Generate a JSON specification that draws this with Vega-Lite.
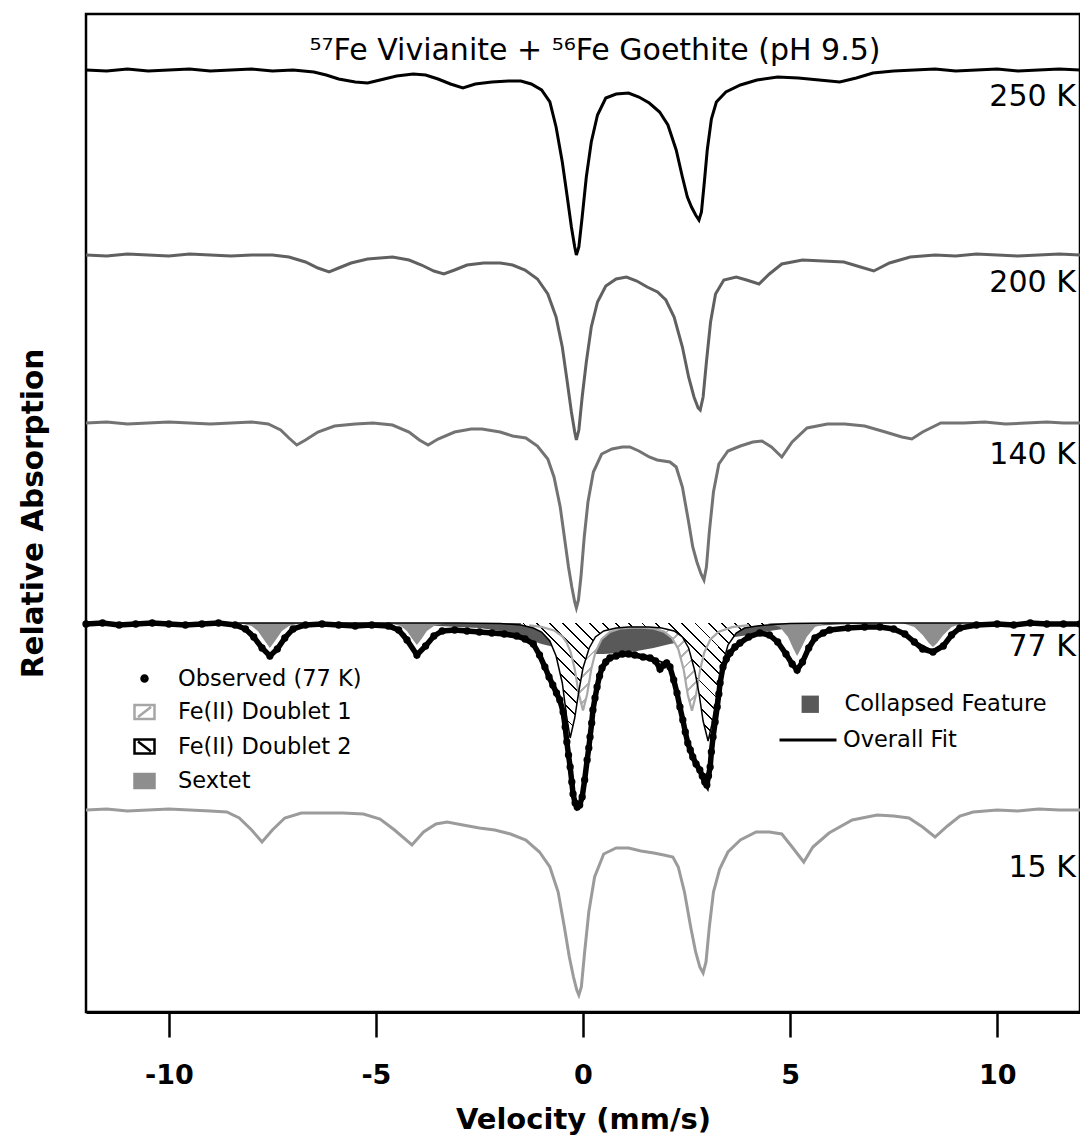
{
  "$schema": "https://vega.github.io/schema/vega-lite/v6.json",
  "width": 994,
  "height": 998,
  "autosize": {"type": "none"},
  "padding": {"left": 86, "top": 14, "right": 0, "bottom": 125},
  "background": "white",
  "title": {"text": "⁵⁷Fe Vivianite + ⁵⁶Fe Goethite (pH 9.5)", "font": "DejaVu Sans", "fontSize": 30, "fontWeight": "normal", "color": "black", "anchor": "middle", "baseline": "alphabetic", "offset": -46, "dx": 12, "dy": 30},
  "config": {"view": {"stroke": "black", "strokeWidth": 2.5}},
  "datasets": {
    "s250": [
      {"velocity": -12, "absorption": 942}, {"velocity": -11.5, "absorption": 941}, {"velocity": -11, "absorption": 943}, {"velocity": -10.5, "absorption": 941}, {"velocity": -10, "absorption": 942}, {"velocity": -9.5, "absorption": 943}, {"velocity": -9, "absorption": 941}, {"velocity": -8.5, "absorption": 942}, {"velocity": -8, "absorption": 943}, {"velocity": -7.5, "absorption": 941}, {"velocity": -7, "absorption": 942}, {"velocity": -6.5, "absorption": 940}, {"velocity": -6.2, "absorption": 937}, {"velocity": -5.9, "absorption": 933}, {"velocity": -5.5, "absorption": 930}, {"velocity": -5.2, "absorption": 929}, {"velocity": -4.9, "absorption": 932}, {"velocity": -4.5, "absorption": 936}, {"velocity": -4.1, "absorption": 938}, {"velocity": -3.8, "absorption": 937}, {"velocity": -3.5, "absorption": 933}, {"velocity": -3.2, "absorption": 928}, {"velocity": -2.9, "absorption": 924}, {"velocity": -2.6, "absorption": 928}, {"velocity": -2.2, "absorption": 930}, {"velocity": -1.8, "absorption": 931}, {"velocity": -1.5, "absorption": 931}, {"velocity": -1.25, "absorption": 928}, {"velocity": -1.0, "absorption": 922}, {"velocity": -0.8, "absorption": 910}, {"velocity": -0.65, "absorption": 885}, {"velocity": -0.5, "absorption": 850}, {"velocity": -0.38, "absorption": 815}, {"velocity": -0.28, "absorption": 785}, {"velocity": -0.2, "absorption": 765}, {"velocity": -0.16, "absorption": 757}, {"velocity": -0.1, "absorption": 765}, {"velocity": -0.02, "absorption": 795}, {"velocity": 0.08, "absorption": 835}, {"velocity": 0.2, "absorption": 870}, {"velocity": 0.35, "absorption": 897}, {"velocity": 0.55, "absorption": 914}, {"velocity": 0.8, "absorption": 918}, {"velocity": 1.1, "absorption": 919}, {"velocity": 1.35, "absorption": 915}, {"velocity": 1.6, "absorption": 909}, {"velocity": 1.85, "absorption": 900}, {"velocity": 2.05, "absorption": 887}, {"velocity": 2.25, "absorption": 862}, {"velocity": 2.4, "absorption": 835}, {"velocity": 2.52, "absorption": 815}, {"velocity": 2.62, "absorption": 805}, {"velocity": 2.72, "absorption": 797}, {"velocity": 2.8, "absorption": 792}, {"velocity": 2.86, "absorption": 800}, {"velocity": 2.93, "absorption": 830}, {"velocity": 3.0, "absorption": 862}, {"velocity": 3.1, "absorption": 893}, {"velocity": 3.22, "absorption": 910}, {"velocity": 3.45, "absorption": 920}, {"velocity": 3.8, "absorption": 927}, {"velocity": 4.2, "absorption": 932}, {"velocity": 4.7, "absorption": 935}, {"velocity": 5.2, "absorption": 934}, {"velocity": 5.7, "absorption": 932}, {"velocity": 6.2, "absorption": 930}, {"velocity": 6.6, "absorption": 934}, {"velocity": 7.0, "absorption": 939}, {"velocity": 7.5, "absorption": 941}, {"velocity": 8, "absorption": 942}, {"velocity": 8.5, "absorption": 943}, {"velocity": 9, "absorption": 941}, {"velocity": 9.5, "absorption": 942}, {"velocity": 10, "absorption": 943}, {"velocity": 10.5, "absorption": 941}, {"velocity": 11, "absorption": 942}, {"velocity": 11.5, "absorption": 943}, {"velocity": 12, "absorption": 942}
    ],
    "s200": [
      {"velocity": -12, "absorption": 757}, {"velocity": -11.5, "absorption": 756}, {"velocity": -11, "absorption": 758}, {"velocity": -10.5, "absorption": 757}, {"velocity": -10, "absorption": 756}, {"velocity": -9.5, "absorption": 758}, {"velocity": -9, "absorption": 757}, {"velocity": -8.5, "absorption": 756}, {"velocity": -8, "absorption": 757}, {"velocity": -7.5, "absorption": 757}, {"velocity": -7.1, "absorption": 755}, {"velocity": -6.7, "absorption": 750}, {"velocity": -6.4, "absorption": 744}, {"velocity": -6.13, "absorption": 740}, {"velocity": -5.9, "absorption": 744}, {"velocity": -5.6, "absorption": 749}, {"velocity": -5.2, "absorption": 753}, {"velocity": -4.6, "absorption": 755}, {"velocity": -4.2, "absorption": 752}, {"velocity": -3.9, "absorption": 747}, {"velocity": -3.6, "absorption": 741}, {"velocity": -3.36, "absorption": 738}, {"velocity": -3.1, "absorption": 742}, {"velocity": -2.8, "absorption": 747}, {"velocity": -2.4, "absorption": 749}, {"velocity": -2.0, "absorption": 749}, {"velocity": -1.7, "absorption": 747}, {"velocity": -1.4, "absorption": 742}, {"velocity": -1.1, "absorption": 733}, {"velocity": -0.85, "absorption": 718}, {"velocity": -0.65, "absorption": 695}, {"velocity": -0.5, "absorption": 665}, {"velocity": -0.38, "absorption": 630}, {"velocity": -0.28, "absorption": 600}, {"velocity": -0.2, "absorption": 580}, {"velocity": -0.16, "absorption": 572}, {"velocity": -0.1, "absorption": 582}, {"velocity": -0.02, "absorption": 615}, {"velocity": 0.08, "absorption": 650}, {"velocity": 0.2, "absorption": 685}, {"velocity": 0.35, "absorption": 710}, {"velocity": 0.55, "absorption": 726}, {"velocity": 0.8, "absorption": 733}, {"velocity": 1.05, "absorption": 735}, {"velocity": 1.3, "absorption": 731}, {"velocity": 1.55, "absorption": 725}, {"velocity": 1.8, "absorption": 720}, {"velocity": 2.0, "absorption": 712}, {"velocity": 2.2, "absorption": 695}, {"velocity": 2.4, "absorption": 665}, {"velocity": 2.55, "absorption": 635}, {"velocity": 2.68, "absorption": 615}, {"velocity": 2.78, "absorption": 604}, {"velocity": 2.83, "absorption": 602}, {"velocity": 2.9, "absorption": 615}, {"velocity": 2.98, "absorption": 650}, {"velocity": 3.08, "absorption": 690}, {"velocity": 3.2, "absorption": 718}, {"velocity": 3.4, "absorption": 732}, {"velocity": 3.7, "absorption": 735}, {"velocity": 3.95, "absorption": 732}, {"velocity": 4.25, "absorption": 728}, {"velocity": 4.5, "absorption": 738}, {"velocity": 4.8, "absorption": 748}, {"velocity": 5.3, "absorption": 752}, {"velocity": 5.8, "absorption": 751}, {"velocity": 6.3, "absorption": 750}, {"velocity": 6.7, "absorption": 745}, {"velocity": 7.02, "absorption": 741}, {"velocity": 7.4, "absorption": 749}, {"velocity": 7.9, "absorption": 755}, {"velocity": 8.5, "absorption": 757}, {"velocity": 9, "absorption": 756}, {"velocity": 9.5, "absorption": 758}, {"velocity": 10, "absorption": 757}, {"velocity": 10.5, "absorption": 756}, {"velocity": 11, "absorption": 757}, {"velocity": 11.5, "absorption": 758}, {"velocity": 12, "absorption": 757}
    ],
    "s140": [
      {"velocity": -12, "absorption": 589}, {"velocity": -11.5, "absorption": 590}, {"velocity": -11, "absorption": 588}, {"velocity": -10.5, "absorption": 589}, {"velocity": -10, "absorption": 590}, {"velocity": -9.5, "absorption": 589}, {"velocity": -9, "absorption": 588}, {"velocity": -8.5, "absorption": 589}, {"velocity": -8, "absorption": 590}, {"velocity": -7.6, "absorption": 588}, {"velocity": -7.3, "absorption": 582}, {"velocity": -7.1, "absorption": 574}, {"velocity": -6.91, "absorption": 567}, {"velocity": -6.7, "absorption": 572}, {"velocity": -6.4, "absorption": 580}, {"velocity": -6.0, "absorption": 586}, {"velocity": -5.5, "absorption": 588}, {"velocity": -5.07, "absorption": 589}, {"velocity": -4.6, "absorption": 587}, {"velocity": -4.2, "absorption": 580}, {"velocity": -3.95, "absorption": 572}, {"velocity": -3.74, "absorption": 567}, {"velocity": -3.5, "absorption": 573}, {"velocity": -3.1, "absorption": 580}, {"velocity": -2.7, "absorption": 583}, {"velocity": -2.44, "absorption": 583}, {"velocity": -2.0, "absorption": 580}, {"velocity": -1.7, "absorption": 576}, {"velocity": -1.38, "absorption": 574}, {"velocity": -1.1, "absorption": 566}, {"velocity": -0.85, "absorption": 553}, {"velocity": -0.7, "absorption": 535}, {"velocity": -0.55, "absorption": 505}, {"velocity": -0.45, "absorption": 475}, {"velocity": -0.35, "absorption": 445}, {"velocity": -0.27, "absorption": 425}, {"velocity": -0.2, "absorption": 410}, {"velocity": -0.16, "absorption": 404}, {"velocity": -0.11, "absorption": 412}, {"velocity": -0.05, "absorption": 435}, {"velocity": 0.03, "absorption": 475}, {"velocity": 0.12, "absorption": 510}, {"velocity": 0.25, "absorption": 540}, {"velocity": 0.45, "absorption": 558}, {"velocity": 0.7, "absorption": 563}, {"velocity": 0.95, "absorption": 565}, {"velocity": 1.13, "absorption": 565}, {"velocity": 1.35, "absorption": 561}, {"velocity": 1.6, "absorption": 555}, {"velocity": 1.79, "absorption": 552}, {"velocity": 2.1, "absorption": 550}, {"velocity": 2.25, "absorption": 545}, {"velocity": 2.4, "absorption": 525}, {"velocity": 2.55, "absorption": 490}, {"velocity": 2.65, "absorption": 465}, {"velocity": 2.75, "absorption": 450}, {"velocity": 2.85, "absorption": 438}, {"velocity": 2.92, "absorption": 432}, {"velocity": 2.98, "absorption": 445}, {"velocity": 3.05, "absorption": 480}, {"velocity": 3.15, "absorption": 520}, {"velocity": 3.28, "absorption": 548}, {"velocity": 3.5, "absorption": 561}, {"velocity": 3.8, "absorption": 566}, {"velocity": 4.1, "absorption": 570}, {"velocity": 4.32, "absorption": 571}, {"velocity": 4.55, "absorption": 565}, {"velocity": 4.8, "absorption": 555}, {"velocity": 5.05, "absorption": 570}, {"velocity": 5.41, "absorption": 584}, {"velocity": 5.9, "absorption": 588}, {"velocity": 6.32, "absorption": 588}, {"velocity": 6.8, "absorption": 586}, {"velocity": 7.3, "absorption": 580}, {"velocity": 7.7, "absorption": 575}, {"velocity": 7.94, "absorption": 573}, {"velocity": 8.2, "absorption": 580}, {"velocity": 8.64, "absorption": 589}, {"velocity": 9.2, "absorption": 589}, {"velocity": 9.7, "absorption": 590}, {"velocity": 10.2, "absorption": 588}, {"velocity": 10.7, "absorption": 589}, {"velocity": 11.2, "absorption": 590}, {"velocity": 11.6, "absorption": 589}, {"velocity": 12, "absorption": 589}
    ],
    "s15": [
      {"velocity": -12, "absorption": 202}, {"velocity": -11.5, "absorption": 203}, {"velocity": -11, "absorption": 201}, {"velocity": -10.5, "absorption": 202}, {"velocity": -10, "absorption": 203}, {"velocity": -9.5, "absorption": 202}, {"velocity": -9, "absorption": 201}, {"velocity": -8.6, "absorption": 200}, {"velocity": -8.3, "absorption": 194}, {"velocity": -8.0, "absorption": 182}, {"velocity": -7.75, "absorption": 170}, {"velocity": -7.5, "absorption": 182}, {"velocity": -7.2, "absorption": 194}, {"velocity": -6.8, "absorption": 199}, {"velocity": -6.3, "absorption": 199}, {"velocity": -5.8, "absorption": 199}, {"velocity": -5.3, "absorption": 198}, {"velocity": -4.9, "absorption": 193}, {"velocity": -4.55, "absorption": 182}, {"velocity": -4.13, "absorption": 167}, {"velocity": -3.85, "absorption": 180}, {"velocity": -3.55, "absorption": 188}, {"velocity": -3.28, "absorption": 190}, {"velocity": -2.9, "absorption": 187}, {"velocity": -2.5, "absorption": 184}, {"velocity": -2.13, "absorption": 182}, {"velocity": -1.75, "absorption": 178}, {"velocity": -1.38, "absorption": 172}, {"velocity": -1.05, "absorption": 160}, {"velocity": -0.8, "absorption": 145}, {"velocity": -0.6, "absorption": 120}, {"velocity": -0.45, "absorption": 85}, {"velocity": -0.33, "absorption": 55}, {"velocity": -0.23, "absorption": 35}, {"velocity": -0.15, "absorption": 22}, {"velocity": -0.1, "absorption": 17}, {"velocity": -0.04, "absorption": 25}, {"velocity": 0.04, "absorption": 60}, {"velocity": 0.14, "absorption": 100}, {"velocity": 0.28, "absorption": 135}, {"velocity": 0.5, "absorption": 158}, {"velocity": 0.8, "absorption": 164}, {"velocity": 1.1, "absorption": 164}, {"velocity": 1.4, "absorption": 161}, {"velocity": 1.71, "absorption": 159}, {"velocity": 1.95, "absorption": 157}, {"velocity": 2.17, "absorption": 155}, {"velocity": 2.3, "absorption": 145}, {"velocity": 2.45, "absorption": 120}, {"velocity": 2.6, "absorption": 85}, {"velocity": 2.72, "absorption": 60}, {"velocity": 2.82, "absorption": 45}, {"velocity": 2.9, "absorption": 39}, {"velocity": 2.97, "absorption": 50}, {"velocity": 3.05, "absorption": 85}, {"velocity": 3.15, "absorption": 120}, {"velocity": 3.3, "absorption": 143}, {"velocity": 3.5, "absorption": 160}, {"velocity": 3.8, "absorption": 172}, {"velocity": 4.18, "absorption": 180}, {"velocity": 4.5, "absorption": 180}, {"velocity": 4.8, "absorption": 178}, {"velocity": 5.05, "absorption": 165}, {"velocity": 5.33, "absorption": 150}, {"velocity": 5.55, "absorption": 165}, {"velocity": 5.94, "absorption": 179}, {"velocity": 6.5, "absorption": 192}, {"velocity": 7.1, "absorption": 197}, {"velocity": 7.5, "absorption": 196}, {"velocity": 7.87, "absorption": 194}, {"velocity": 8.2, "absorption": 185}, {"velocity": 8.5, "absorption": 175}, {"velocity": 8.8, "absorption": 186}, {"velocity": 9.1, "absorption": 196}, {"velocity": 9.42, "absorption": 200}, {"velocity": 10, "absorption": 202}, {"velocity": 10.5, "absorption": 201}, {"velocity": 11, "absorption": 203}, {"velocity": 11.5, "absorption": 202}, {"velocity": 12, "absorption": 202}
    ],
    "obs77": [
      {"velocity": -12, "absorption": 388}, {"velocity": -11.6, "absorption": 389}, {"velocity": -11.2, "absorption": 387}, {"velocity": -10.8, "absorption": 388}, {"velocity": -10.4, "absorption": 389}, {"velocity": -10, "absorption": 388}, {"velocity": -9.6, "absorption": 387}, {"velocity": -9.2, "absorption": 388}, {"velocity": -8.8, "absorption": 389}, {"velocity": -8.4, "absorption": 387}, {"velocity": -8.15, "absorption": 383}, {"velocity": -7.95, "absorption": 375}, {"velocity": -7.75, "absorption": 364}, {"velocity": -7.56, "absorption": 356}, {"velocity": -7.38, "absorption": 363}, {"velocity": -7.2, "absorption": 374}, {"velocity": -7.0, "absorption": 383}, {"velocity": -6.7, "absorption": 387}, {"velocity": -6.3, "absorption": 388}, {"velocity": -5.9, "absorption": 387}, {"velocity": -5.5, "absorption": 386}, {"velocity": -5.1, "absorption": 387}, {"velocity": -4.7, "absorption": 386}, {"velocity": -4.45, "absorption": 382}, {"velocity": -4.25, "absorption": 372}, {"velocity": -4.01, "absorption": 357}, {"velocity": -3.8, "absorption": 366}, {"velocity": -3.6, "absorption": 376}, {"velocity": -3.4, "absorption": 381}, {"velocity": -3.1, "absorption": 382}, {"velocity": -2.8, "absorption": 381}, {"velocity": -2.5, "absorption": 380}, {"velocity": -2.2, "absorption": 379}, {"velocity": -1.9, "absorption": 378}, {"velocity": -1.6, "absorption": 376}, {"velocity": -1.4, "absorption": 373}, {"velocity": -1.2, "absorption": 368}, {"velocity": -1.05, "absorption": 357}, {"velocity": -0.92, "absorption": 345}, {"velocity": -0.82, "absorption": 335}, {"velocity": -0.73, "absorption": 327}, {"velocity": -0.64, "absorption": 319}, {"velocity": -0.56, "absorption": 312}, {"velocity": -0.48, "absorption": 300}, {"velocity": -0.43, "absorption": 285}, {"velocity": -0.39, "absorption": 270}, {"velocity": -0.35, "absorption": 257}, {"velocity": -0.31, "absorption": 245}, {"velocity": -0.27, "absorption": 230}, {"velocity": -0.24, "absorption": 218}, {"velocity": -0.19, "absorption": 209}, {"velocity": -0.14, "absorption": 205}, {"velocity": -0.08, "absorption": 207}, {"velocity": -0.02, "absorption": 215}, {"velocity": 0.04, "absorption": 232}, {"velocity": 0.1, "absorption": 252}, {"velocity": 0.14, "absorption": 264}, {"velocity": 0.17, "absorption": 275}, {"velocity": 0.21, "absorption": 289}, {"velocity": 0.24, "absorption": 302}, {"velocity": 0.29, "absorption": 314}, {"velocity": 0.34, "absorption": 325}, {"velocity": 0.4, "absorption": 336}, {"velocity": 0.46, "absorption": 344}, {"velocity": 0.55, "absorption": 350}, {"velocity": 0.65, "absorption": 354}, {"velocity": 0.8, "absorption": 356}, {"velocity": 0.95, "absorption": 358}, {"velocity": 1.1, "absorption": 358}, {"velocity": 1.25, "absorption": 357}, {"velocity": 1.45, "absorption": 355}, {"velocity": 1.62, "absorption": 354}, {"velocity": 1.75, "absorption": 351}, {"velocity": 1.86, "absorption": 343}, {"velocity": 1.95, "absorption": 347}, {"velocity": 2.02, "absorption": 349}, {"velocity": 2.1, "absorption": 345}, {"velocity": 2.19, "absorption": 332}, {"velocity": 2.27, "absorption": 319}, {"velocity": 2.34, "absorption": 305}, {"velocity": 2.41, "absorption": 292}, {"velocity": 2.47, "absorption": 280}, {"velocity": 2.53, "absorption": 269}, {"velocity": 2.59, "absorption": 262}, {"velocity": 2.65, "absorption": 255}, {"velocity": 2.73, "absorption": 248}, {"velocity": 2.82, "absorption": 242}, {"velocity": 2.88, "absorption": 236}, {"velocity": 2.94, "absorption": 230}, {"velocity": 2.99, "absorption": 227}, {"velocity": 3.03, "absorption": 236}, {"velocity": 3.07, "absorption": 245}, {"velocity": 3.1, "absorption": 260}, {"velocity": 3.14, "absorption": 275}, {"velocity": 3.19, "absorption": 290}, {"velocity": 3.24, "absorption": 305}, {"velocity": 3.28, "absorption": 318}, {"velocity": 3.31, "absorption": 329}, {"velocity": 3.38, "absorption": 345}, {"velocity": 3.46, "absorption": 353}, {"velocity": 3.55, "absorption": 359}, {"velocity": 3.67, "absorption": 365}, {"velocity": 3.79, "absorption": 369}, {"velocity": 4.0, "absorption": 375}, {"velocity": 4.27, "absorption": 379}, {"velocity": 4.5, "absorption": 377}, {"velocity": 4.7, "absorption": 370}, {"velocity": 4.9, "absorption": 358}, {"velocity": 5.05, "absorption": 348}, {"velocity": 5.17, "absorption": 342}, {"velocity": 5.3, "absorption": 350}, {"velocity": 5.45, "absorption": 364}, {"velocity": 5.6, "absorption": 374}, {"velocity": 5.8, "absorption": 379}, {"velocity": 5.96, "absorption": 382}, {"velocity": 6.4, "absorption": 384}, {"velocity": 6.8, "absorption": 385}, {"velocity": 7.17, "absorption": 385}, {"velocity": 7.5, "absorption": 383}, {"velocity": 7.77, "absorption": 378}, {"velocity": 8.0, "absorption": 370}, {"velocity": 8.2, "absorption": 363}, {"velocity": 8.45, "absorption": 360}, {"velocity": 8.7, "absorption": 366}, {"velocity": 8.9, "absorption": 377}, {"velocity": 9.1, "absorption": 384}, {"velocity": 9.5, "absorption": 387}, {"velocity": 10, "absorption": 388}, {"velocity": 10.4, "absorption": 387}, {"velocity": 10.8, "absorption": 389}, {"velocity": 11.2, "absorption": 388}, {"velocity": 11.6, "absorption": 388}, {"velocity": 12, "absorption": 388}
    ],
    "fit77": [
      {"velocity": -12, "absorption": 389}, {"velocity": -9, "absorption": 389}, {"velocity": -8.3, "absorption": 388}, {"velocity": -8.0, "absorption": 380}, {"velocity": -7.75, "absorption": 366}, {"velocity": -7.56, "absorption": 357}, {"velocity": -7.35, "absorption": 365}, {"velocity": -7.1, "absorption": 380}, {"velocity": -6.8, "absorption": 388}, {"velocity": -5.5, "absorption": 388}, {"velocity": -4.6, "absorption": 387}, {"velocity": -4.3, "absorption": 378}, {"velocity": -4.01, "absorption": 358}, {"velocity": -3.75, "absorption": 370}, {"velocity": -3.5, "absorption": 380}, {"velocity": -3.0, "absorption": 383}, {"velocity": -2.0, "absorption": 380}, {"velocity": -1.5, "absorption": 376}, {"velocity": -1.2, "absorption": 369}, {"velocity": -1.0, "absorption": 356}, {"velocity": -0.85, "absorption": 341}, {"velocity": -0.72, "absorption": 327}, {"velocity": -0.6, "absorption": 315}, {"velocity": -0.5, "absorption": 298}, {"velocity": -0.4, "absorption": 272}, {"velocity": -0.3, "absorption": 243}, {"velocity": -0.2, "absorption": 215}, {"velocity": -0.13, "absorption": 206}, {"velocity": -0.06, "absorption": 209}, {"velocity": 0.02, "absorption": 222}, {"velocity": 0.1, "absorption": 250}, {"velocity": 0.2, "absorption": 285}, {"velocity": 0.3, "absorption": 318}, {"velocity": 0.4, "absorption": 336}, {"velocity": 0.55, "absorption": 350}, {"velocity": 0.8, "absorption": 356}, {"velocity": 1.2, "absorption": 357}, {"velocity": 1.6, "absorption": 355}, {"velocity": 1.9, "absorption": 350}, {"velocity": 2.1, "absorption": 343}, {"velocity": 2.25, "absorption": 322}, {"velocity": 2.4, "absorption": 295}, {"velocity": 2.55, "absorption": 268}, {"velocity": 2.7, "absorption": 252}, {"velocity": 2.85, "absorption": 240}, {"velocity": 2.97, "absorption": 228}, {"velocity": 3.05, "absorption": 240}, {"velocity": 3.15, "absorption": 275}, {"velocity": 3.25, "absorption": 308}, {"velocity": 3.38, "absorption": 343}, {"velocity": 3.55, "absorption": 360}, {"velocity": 3.8, "absorption": 370}, {"velocity": 4.2, "absorption": 379}, {"velocity": 4.6, "absorption": 375}, {"velocity": 4.85, "absorption": 362}, {"velocity": 5.17, "absorption": 343}, {"velocity": 5.45, "absorption": 363}, {"velocity": 5.7, "absorption": 378}, {"velocity": 6.0, "absorption": 383}, {"velocity": 7.0, "absorption": 386}, {"velocity": 7.7, "absorption": 380}, {"velocity": 8.0, "absorption": 371}, {"velocity": 8.45, "absorption": 361}, {"velocity": 8.8, "absorption": 372}, {"velocity": 9.1, "absorption": 384}, {"velocity": 9.6, "absorption": 388}, {"velocity": 12, "absorption": 389}
    ],
    "d1": [
      {"velocity": -1.3, "absorption": 386.7}, {"velocity": -1.0, "absorption": 385.1}, {"velocity": -0.7, "absorption": 381.6}, {"velocity": -0.5, "absorption": 375.6}, {"velocity": -0.4, "absorption": 369.9}, {"velocity": -0.3, "absorption": 360.1}, {"velocity": -0.2, "absorption": 343.1}, {"velocity": -0.1, "absorption": 317.7}, {"velocity": 0.0, "absorption": 301.6}, {"velocity": 0.1, "absorption": 317.7}, {"velocity": 0.2, "absorption": 343}, {"velocity": 0.3, "absorption": 359.9}, {"velocity": 0.45, "absorption": 372.9}, {"velocity": 0.65, "absorption": 380.1}, {"velocity": 0.9, "absorption": 383.6}, {"velocity": 1.3, "absorption": 384.7}, {"velocity": 1.7, "absorption": 383.5}, {"velocity": 1.95, "absorption": 380.4}, {"velocity": 2.15, "absorption": 374.1}, {"velocity": 2.3, "absorption": 363.1}, {"velocity": 2.43, "absorption": 342.6}, {"velocity": 2.53, "absorption": 317.3}, {"velocity": 2.63, "absorption": 301.3}, {"velocity": 2.73, "absorption": 317.4}, {"velocity": 2.83, "absorption": 342.8}, {"velocity": 2.93, "absorption": 359.8}, {"velocity": 3.08, "absorption": 372.9}, {"velocity": 3.28, "absorption": 380.4}, {"velocity": 3.6, "absorption": 384.8}, {"velocity": 4.0, "absorption": 386.8}
    ],
    "d2": [
      {"velocity": -12, "absorption": 389}, {"velocity": -6, "absorption": 389}, {"velocity": -3, "absorption": 389}, {"velocity": -2.0, "absorption": 388.5}, {"velocity": -1.5, "absorption": 387}, {"velocity": -1.2, "absorption": 384}, {"velocity": -1.0, "absorption": 380}, {"velocity": -0.8, "absorption": 371}, {"velocity": -0.65, "absorption": 356}, {"velocity": -0.5, "absorption": 329}, {"velocity": -0.4, "absorption": 297}, {"velocity": -0.31, "absorption": 274}, {"velocity": -0.2, "absorption": 294}, {"velocity": -0.1, "absorption": 321}, {"velocity": 0.0, "absorption": 344}, {"velocity": 0.15, "absorption": 364}, {"velocity": 0.3, "absorption": 375}, {"velocity": 0.5, "absorption": 381}, {"velocity": 0.8, "absorption": 384}, {"velocity": 1.1, "absorption": 385}, {"velocity": 1.35, "absorption": 385}, {"velocity": 1.6, "absorption": 385}, {"velocity": 1.9, "absorption": 384}, {"velocity": 2.2, "absorption": 381}, {"velocity": 2.4, "absorption": 375}, {"velocity": 2.55, "absorption": 364}, {"velocity": 2.7, "absorption": 341}, {"velocity": 2.8, "absorption": 319}, {"velocity": 2.9, "absorption": 291}, {"velocity": 3.02, "absorption": 271}, {"velocity": 3.12, "absorption": 289}, {"velocity": 3.22, "absorption": 314}, {"velocity": 3.35, "absorption": 344}, {"velocity": 3.5, "absorption": 367}, {"velocity": 3.7, "absorption": 379}, {"velocity": 3.9, "absorption": 384}, {"velocity": 4.2, "absorption": 386}, {"velocity": 4.6, "absorption": 387.5}, {"velocity": 5.0, "absorption": 388.5}, {"velocity": 6, "absorption": 389}, {"velocity": 12, "absorption": 389}
    ],
    "sextet": [
      {"velocity": -8.3, "absorption": 389}, {"velocity": -8.0, "absorption": 386}, {"velocity": -7.85, "absorption": 381}, {"velocity": -7.7, "absorption": 372}, {"velocity": -7.56, "absorption": 364}, {"velocity": -7.42, "absorption": 372}, {"velocity": -7.27, "absorption": 381}, {"velocity": -7.1, "absorption": 386}, {"velocity": -6.8, "absorption": 389},
      {"velocity": -4.7, "absorption": 389}, {"velocity": -4.4, "absorption": 386}, {"velocity": -4.25, "absorption": 381}, {"velocity": -4.12, "absorption": 373}, {"velocity": -4.01, "absorption": 367}, {"velocity": -3.9, "absorption": 373}, {"velocity": -3.77, "absorption": 381}, {"velocity": -3.6, "absorption": 386}, {"velocity": -3.3, "absorption": 389},
      {"velocity": 4.45, "absorption": 389}, {"velocity": 4.75, "absorption": 385}, {"velocity": 4.95, "absorption": 375}, {"velocity": 5.07, "absorption": 364}, {"velocity": 5.17, "absorption": 356}, {"velocity": 5.27, "absorption": 364}, {"velocity": 5.4, "absorption": 375}, {"velocity": 5.6, "absorption": 385}, {"velocity": 5.9, "absorption": 389},
      {"velocity": 7.7, "absorption": 389}, {"velocity": 8.0, "absorption": 385}, {"velocity": 8.2, "absorption": 377}, {"velocity": 8.35, "absorption": 369}, {"velocity": 8.45, "absorption": 365}, {"velocity": 8.55, "absorption": 369}, {"velocity": 8.7, "absorption": 377}, {"velocity": 8.9, "absorption": 385}, {"velocity": 9.2, "absorption": 389}
    ],
    "collapsed": [
      {"velocity": -5.5, "absorption": 389}, {"velocity": -4.5, "absorption": 388}, {"velocity": -3.5, "absorption": 386}, {"velocity": -2.5, "absorption": 384}, {"velocity": -2.0, "absorption": 381}, {"velocity": -1.5, "absorption": 375}, {"velocity": -1.0, "absorption": 368}, {"velocity": -0.6, "absorption": 364}, {"velocity": -0.2, "absorption": 361}, {"velocity": 0.2, "absorption": 358}, {"velocity": 0.5, "absorption": 358}, {"velocity": 0.9, "absorption": 359}, {"velocity": 1.3, "absorption": 361}, {"velocity": 1.7, "absorption": 364}, {"velocity": 2.1, "absorption": 368}, {"velocity": 2.5, "absorption": 371}, {"velocity": 3.0, "absorption": 373}, {"velocity": 3.5, "absorption": 374}, {"velocity": 4.0, "absorption": 377}, {"velocity": 4.5, "absorption": 381}, {"velocity": 5.0, "absorption": 384}, {"velocity": 5.5, "absorption": 386}, {"velocity": 6.2, "absorption": 387.5}, {"velocity": 7.0, "absorption": 388.5}, {"velocity": 7.5, "absorption": 389}
    ],
    "labels": [
      {"temp": "250 K", "velocity": 11.9, "absorption": 915},
      {"temp": "200 K", "velocity": 11.9, "absorption": 729},
      {"temp": "140 K", "velocity": 11.9, "absorption": 557},
      {"temp": "77 K", "velocity": 11.9, "absorption": 365},
      {"temp": "15 K", "velocity": 11.9, "absorption": 144}
    ]
  },
  "encoding": {
    "x": {"field": "velocity", "type": "quantitative", "scale": {"domain": [-12, 12], "nice": false, "zero": false},
      "axis": {"values": [-10, -5, 0, 5, 10], "title": "Velocity (mm/s)", "grid": false, "tickSize": 25, "tickWidth": 2.5, "tickColor": "black", "domainColor": "black", "domainWidth": 3, "labelFont": "DejaVu Sans", "labelFontWeight": "bold", "labelFontSize": 27, "labelColor": "black", "labelPadding": 25, "labelFlush": false, "labelExpr": "datum.value < 0 ? '-' + (-datum.value) : '' + datum.value", "titleFont": "DejaVu Sans", "titleFontWeight": "bold", "titleFontSize": 29, "titleColor": "black", "titlePadding": 17}},
    "y": {"field": "absorption", "type": "quantitative", "scale": {"domain": [0, 998], "nice": false, "zero": false},
      "axis": {"title": "Relative Absorption", "labels": false, "ticks": false, "domain": false, "grid": false, "titleFont": "DejaVu Sans", "titleFontWeight": "bold", "titleFontSize": 29.5, "titleColor": "black", "titlePadding": 38}}
  },
  "layer": [
    {
      "data": {"name": "collapsed"},
      "mark": {"type": "area", "opacity": 1},
      "encoding": {
        "y2": {"datum": 389},
        "fill": {"datum": "Collapsed Feature", "type": "nominal", "scale": {"domain": ["Collapsed Feature"], "range": ["#595959"]},
          "legend": {"title": null, "orient": "none", "legendX": 713, "legendY": 679, "padding": 0, "symbolType": "square", "symbolSize": 300, "symbolStrokeWidth": 0, "symbolOpacity": 1, "labelFont": "DejaVu Sans", "labelFontSize": 22.5, "labelColor": "black", "labelOffset": 23, "labelLimit": 400}}
      }
    },
    {
      "data": {"name": "d1"},
      "transform": [{"filter": "datum.velocity >= -1.0 && datum.velocity <= 3.6"}],
      "mark": {"type": "area", "opacity": 1, "fill": {"gradient": "linear", "x1": 0, "y1": 0, "x2": 1.205, "y2": 0.554, "stops": [
        {"offset": 0, "color": "#b3b3b3"}, {"offset": 0.01, "color": "#b3b3b3"}, {"offset": 0.01, "color": "#fff"},
        {"offset": 0.0476, "color": "#fff"}, {"offset": 0.0476, "color": "#b3b3b3"}, {"offset": 0.0576, "color": "#b3b3b3"}, {"offset": 0.0576, "color": "#fff"},
        {"offset": 0.0952, "color": "#fff"}, {"offset": 0.0952, "color": "#b3b3b3"}, {"offset": 0.1052, "color": "#b3b3b3"}, {"offset": 0.1052, "color": "#fff"},
        {"offset": 0.1429, "color": "#fff"}, {"offset": 0.1429, "color": "#b3b3b3"}, {"offset": 0.1529, "color": "#b3b3b3"}, {"offset": 0.1529, "color": "#fff"},
        {"offset": 0.1905, "color": "#fff"}, {"offset": 0.1905, "color": "#b3b3b3"}, {"offset": 0.2005, "color": "#b3b3b3"}, {"offset": 0.2005, "color": "#fff"},
        {"offset": 0.2381, "color": "#fff"}, {"offset": 0.2381, "color": "#b3b3b3"}, {"offset": 0.2481, "color": "#b3b3b3"}, {"offset": 0.2481, "color": "#fff"},
        {"offset": 0.2857, "color": "#fff"}, {"offset": 0.2857, "color": "#b3b3b3"}, {"offset": 0.2957, "color": "#b3b3b3"}, {"offset": 0.2957, "color": "#fff"},
        {"offset": 0.3333, "color": "#fff"}, {"offset": 0.3333, "color": "#b3b3b3"}, {"offset": 0.3433, "color": "#b3b3b3"}, {"offset": 0.3433, "color": "#fff"},
        {"offset": 0.381, "color": "#fff"}, {"offset": 0.381, "color": "#b3b3b3"}, {"offset": 0.391, "color": "#b3b3b3"}, {"offset": 0.391, "color": "#fff"},
        {"offset": 0.4286, "color": "#fff"}, {"offset": 0.4286, "color": "#b3b3b3"}, {"offset": 0.4386, "color": "#b3b3b3"}, {"offset": 0.4386, "color": "#fff"},
        {"offset": 0.4762, "color": "#fff"}, {"offset": 0.4762, "color": "#b3b3b3"}, {"offset": 0.4862, "color": "#b3b3b3"}, {"offset": 0.4862, "color": "#fff"},
        {"offset": 0.5238, "color": "#fff"}, {"offset": 0.5238, "color": "#b3b3b3"}, {"offset": 0.5338, "color": "#b3b3b3"}, {"offset": 0.5338, "color": "#fff"},
        {"offset": 0.5714, "color": "#fff"}, {"offset": 0.5714, "color": "#b3b3b3"}, {"offset": 0.5814, "color": "#b3b3b3"}, {"offset": 0.5814, "color": "#fff"},
        {"offset": 0.619, "color": "#fff"}, {"offset": 0.619, "color": "#b3b3b3"}, {"offset": 0.629, "color": "#b3b3b3"}, {"offset": 0.629, "color": "#fff"},
        {"offset": 0.6667, "color": "#fff"}, {"offset": 0.6667, "color": "#b3b3b3"}, {"offset": 0.6767, "color": "#b3b3b3"}, {"offset": 0.6767, "color": "#fff"},
        {"offset": 0.7143, "color": "#fff"}, {"offset": 0.7143, "color": "#b3b3b3"}, {"offset": 0.7243, "color": "#b3b3b3"}, {"offset": 0.7243, "color": "#fff"},
        {"offset": 0.7619, "color": "#fff"}, {"offset": 0.7619, "color": "#b3b3b3"}, {"offset": 0.7719, "color": "#b3b3b3"}, {"offset": 0.7719, "color": "#fff"},
        {"offset": 0.8095, "color": "#fff"}, {"offset": 0.8095, "color": "#b3b3b3"}, {"offset": 0.8195, "color": "#b3b3b3"}, {"offset": 0.8195, "color": "#fff"},
        {"offset": 0.8571, "color": "#fff"}, {"offset": 0.8571, "color": "#b3b3b3"}, {"offset": 0.8671, "color": "#b3b3b3"}, {"offset": 0.8671, "color": "#fff"},
        {"offset": 0.9048, "color": "#fff"}, {"offset": 0.9048, "color": "#b3b3b3"}, {"offset": 0.9148, "color": "#b3b3b3"}, {"offset": 0.9148, "color": "#fff"},
        {"offset": 0.9524, "color": "#fff"}, {"offset": 0.9524, "color": "#b3b3b3"}, {"offset": 0.9624, "color": "#b3b3b3"}, {"offset": 0.9624, "color": "#fff"},
        {"offset": 1, "color": "#fff"}]}},
      "encoding": {"y2": {"datum": 389}}
    },
    {
      "data": {"name": "d2"},
      "transform": [{"filter": "datum.velocity >= -1.5 && datum.velocity <= 4.6"}],
      "mark": {"type": "area", "opacity": 1, "fill": {"gradient": "linear", "x1": 0, "y1": 1, "x2": 1.204, "y2": 0.438, "stops": [
        {"offset": 0, "color": "#000"}, {"offset": 0.005, "color": "#000"}, {"offset": 0.005, "color": "#fff"},
        {"offset": 0.0357, "color": "#fff"}, {"offset": 0.0357, "color": "#000"}, {"offset": 0.0407, "color": "#000"}, {"offset": 0.0407, "color": "#fff"},
        {"offset": 0.0714, "color": "#fff"}, {"offset": 0.0714, "color": "#000"}, {"offset": 0.0764, "color": "#000"}, {"offset": 0.0764, "color": "#fff"},
        {"offset": 0.1071, "color": "#fff"}, {"offset": 0.1071, "color": "#000"}, {"offset": 0.1121, "color": "#000"}, {"offset": 0.1121, "color": "#fff"},
        {"offset": 0.1429, "color": "#fff"}, {"offset": 0.1429, "color": "#000"}, {"offset": 0.1479, "color": "#000"}, {"offset": 0.1479, "color": "#fff"},
        {"offset": 0.1786, "color": "#fff"}, {"offset": 0.1786, "color": "#000"}, {"offset": 0.1836, "color": "#000"}, {"offset": 0.1836, "color": "#fff"},
        {"offset": 0.2143, "color": "#fff"}, {"offset": 0.2143, "color": "#000"}, {"offset": 0.2193, "color": "#000"}, {"offset": 0.2193, "color": "#fff"},
        {"offset": 0.25, "color": "#fff"}, {"offset": 0.25, "color": "#000"}, {"offset": 0.255, "color": "#000"}, {"offset": 0.255, "color": "#fff"},
        {"offset": 0.2857, "color": "#fff"}, {"offset": 0.2857, "color": "#000"}, {"offset": 0.2907, "color": "#000"}, {"offset": 0.2907, "color": "#fff"},
        {"offset": 0.3214, "color": "#fff"}, {"offset": 0.3214, "color": "#000"}, {"offset": 0.3264, "color": "#000"}, {"offset": 0.3264, "color": "#fff"},
        {"offset": 0.3571, "color": "#fff"}, {"offset": 0.3571, "color": "#000"}, {"offset": 0.3621, "color": "#000"}, {"offset": 0.3621, "color": "#fff"},
        {"offset": 0.3929, "color": "#fff"}, {"offset": 0.3929, "color": "#000"}, {"offset": 0.3979, "color": "#000"}, {"offset": 0.3979, "color": "#fff"},
        {"offset": 0.4286, "color": "#fff"}, {"offset": 0.4286, "color": "#000"}, {"offset": 0.4336, "color": "#000"}, {"offset": 0.4336, "color": "#fff"},
        {"offset": 0.4643, "color": "#fff"}, {"offset": 0.4643, "color": "#000"}, {"offset": 0.4693, "color": "#000"}, {"offset": 0.4693, "color": "#fff"},
        {"offset": 0.5, "color": "#fff"}, {"offset": 0.5, "color": "#000"}, {"offset": 0.505, "color": "#000"}, {"offset": 0.505, "color": "#fff"},
        {"offset": 0.5357, "color": "#fff"}, {"offset": 0.5357, "color": "#000"}, {"offset": 0.5407, "color": "#000"}, {"offset": 0.5407, "color": "#fff"},
        {"offset": 0.5714, "color": "#fff"}, {"offset": 0.5714, "color": "#000"}, {"offset": 0.5764, "color": "#000"}, {"offset": 0.5764, "color": "#fff"},
        {"offset": 0.6071, "color": "#fff"}, {"offset": 0.6071, "color": "#000"}, {"offset": 0.6121, "color": "#000"}, {"offset": 0.6121, "color": "#fff"},
        {"offset": 0.6429, "color": "#fff"}, {"offset": 0.6429, "color": "#000"}, {"offset": 0.6479, "color": "#000"}, {"offset": 0.6479, "color": "#fff"},
        {"offset": 0.6786, "color": "#fff"}, {"offset": 0.6786, "color": "#000"}, {"offset": 0.6836, "color": "#000"}, {"offset": 0.6836, "color": "#fff"},
        {"offset": 0.7143, "color": "#fff"}, {"offset": 0.7143, "color": "#000"}, {"offset": 0.7193, "color": "#000"}, {"offset": 0.7193, "color": "#fff"},
        {"offset": 0.75, "color": "#fff"}, {"offset": 0.75, "color": "#000"}, {"offset": 0.755, "color": "#000"}, {"offset": 0.755, "color": "#fff"},
        {"offset": 0.7857, "color": "#fff"}, {"offset": 0.7857, "color": "#000"}, {"offset": 0.7907, "color": "#000"}, {"offset": 0.7907, "color": "#fff"},
        {"offset": 0.8214, "color": "#fff"}, {"offset": 0.8214, "color": "#000"}, {"offset": 0.8264, "color": "#000"}, {"offset": 0.8264, "color": "#fff"},
        {"offset": 0.8571, "color": "#fff"}, {"offset": 0.8571, "color": "#000"}, {"offset": 0.8621, "color": "#000"}, {"offset": 0.8621, "color": "#fff"},
        {"offset": 0.8929, "color": "#fff"}, {"offset": 0.8929, "color": "#000"}, {"offset": 0.8979, "color": "#000"}, {"offset": 0.8979, "color": "#fff"},
        {"offset": 0.9286, "color": "#fff"}, {"offset": 0.9286, "color": "#000"}, {"offset": 0.9336, "color": "#000"}, {"offset": 0.9336, "color": "#fff"},
        {"offset": 0.9643, "color": "#fff"}, {"offset": 0.9643, "color": "#000"}, {"offset": 0.9693, "color": "#000"}, {"offset": 0.9693, "color": "#fff"},
        {"offset": 1, "color": "#fff"}]}},
      "encoding": {"y2": {"datum": 389}}
    },
    {
      "data": {"name": "sextet"},
      "mark": {"type": "area", "opacity": 1, "fill": "#8e8e8e"},
      "encoding": {"y2": {"datum": 389}}
    },
    {
      "data": {"name": "d1"},
      "mark": {"type": "line", "color": "#a8a8a8", "strokeWidth": 2.2},
      "encoding": {}
    },
    {
      "data": {"name": "d2"},
      "mark": {"type": "line", "color": "#000000", "strokeWidth": 1.5},
      "encoding": {}
    },
    {
      "data": {"name": "s250"},
      "mark": {"type": "line", "color": "#000000", "strokeWidth": 3},
      "encoding": {}
    },
    {
      "data": {"name": "s200"},
      "mark": {"type": "line", "color": "#606060", "strokeWidth": 3},
      "encoding": {}
    },
    {
      "data": {"name": "s140"},
      "mark": {"type": "line", "color": "#737373", "strokeWidth": 3},
      "encoding": {}
    },
    {
      "data": {"name": "s15"},
      "mark": {"type": "line", "color": "#9b9b9b", "strokeWidth": 3},
      "encoding": {}
    },
    {
      "data": {"name": "obs77"},
      "mark": {"type": "line", "color": "#000000", "strokeWidth": 5.5},
      "encoding": {}
    },
    {
      "data": {"name": "obs77"},
      "mark": {"type": "point", "filled": false, "size": 256, "strokeWidth": 2.5, "opacity": 1},
      "encoding": {
        "shape": {"datum": "Observed (77 K)", "type": "nominal",
          "scale": {"domain": ["Observed (77 K)", "Fe(II) Doublet 1", "Fe(II) Doublet 2", "Sextet"],
            "range": ["M-0.3,0A0.3,0.3,0,1,0,0.3,0A0.3,0.3,0,1,0,-0.3,0ZM-0.1,0A0.1,0.1,0,1,0,0.1,0A0.1,0.1,0,1,0,-0.1,0Z", "M-1,-0.7H1V0.7H-1ZM-0.65,0.5L0.65,-0.5", "M-1,-0.7H1V0.7H-1ZM-0.65,-0.5L0.65,0.5", "M-1,-0.7H1V0.7H-1ZM-1,-0.45H1M-1,-0.2H1M-1,0.05H1M-1,0.3H1M-1,0.55H1"]},
          "legend": {"title": null, "orient": "none", "legendX": 47, "legendY": 653, "padding": 0, "symbolSize": 400, "symbolStrokeWidth": 2.5, "symbolOpacity": 1, "labelFont": "DejaVu Sans", "labelFontSize": 22.5, "labelColor": "black", "labelOffset": 22, "rowPadding": 9.5, "labelLimit": 400}},
        "color": {"datum": "Observed (77 K)", "type": "nominal",
          "scale": {"domain": ["Observed (77 K)", "Fe(II) Doublet 1", "Fe(II) Doublet 2", "Sextet"], "range": ["#000000", "#a6a6a6", "#000000", "#8e8e8e"]},
          "legend": {"title": null, "orient": "none", "legendX": 47, "legendY": 653, "padding": 0, "symbolSize": 400, "symbolStrokeWidth": 2.5, "symbolOpacity": 1, "labelFont": "DejaVu Sans", "labelFontSize": 22.5, "labelColor": "black", "labelOffset": 22, "rowPadding": 9.5, "labelLimit": 400}}
      }
    },
    {
      "data": {"name": "fit77"},
      "mark": {"type": "line", "strokeWidth": 1.5},
      "encoding": {
        "stroke": {"datum": "Overall Fit", "type": "nominal", "scale": {"domain": ["Overall Fit"], "range": ["#000000"]},
          "legend": {"title": null, "orient": "none", "legendX": 692, "legendY": 696, "padding": 0, "symbolType": "stroke", "symbolSize": 3249, "symbolStrokeWidth": 3, "symbolOpacity": 1, "labelFont": "DejaVu Sans", "labelFontSize": 22.5, "labelColor": "black", "labelOffset": 5, "labelLimit": 400}}
      }
    },
    {
      "data": {"name": "labels"},
      "mark": {"type": "text", "align": "right", "baseline": "middle", "font": "DejaVu Sans", "fontSize": 30, "color": "black"},
      "encoding": {"text": {"field": "temp", "type": "nominal"}}
    }
  ]
}
